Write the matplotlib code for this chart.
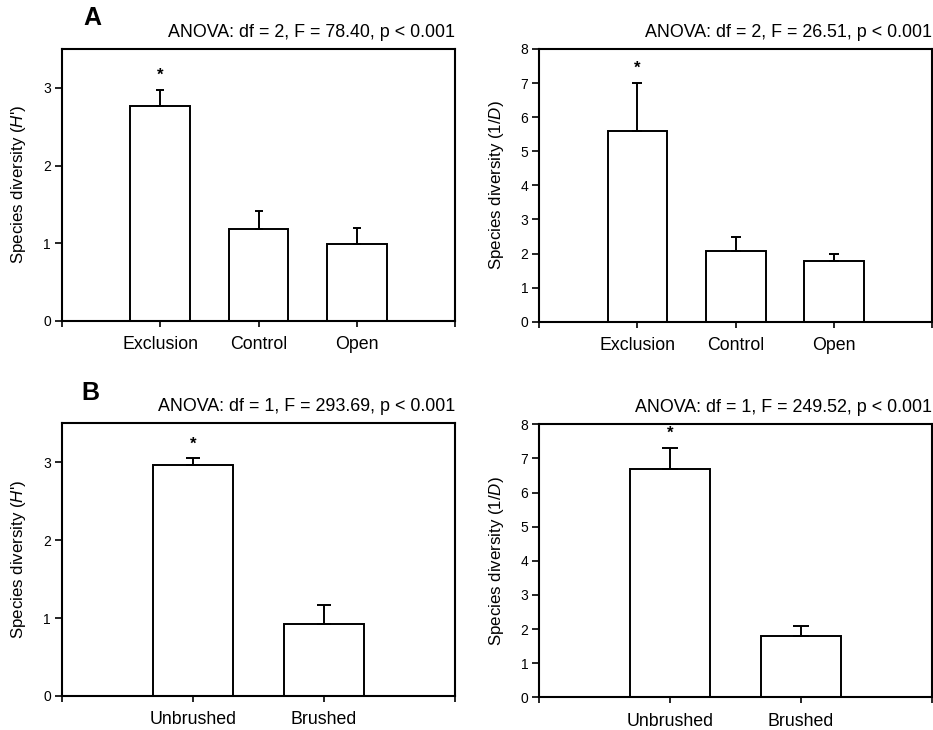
import matplotlib
matplotlib.use("Agg")
import matplotlib.pyplot as plt
import numpy as np

plt.rcParams['font.family'] = ['Liberation Sans', 'DejaVu Sans']
plt.rcParams['mathtext.fontset'] = 'custom'
plt.rcParams['mathtext.rm'] = 'Liberation Sans'
plt.rcParams['mathtext.it'] = 'Liberation Sans:italic'

# panel A: exclusion experiment
a_cats = ['Exclusion', 'Control', 'Open']
a_h = [2.77, 1.18, 0.99]
a_h_err = [0.20, 0.23, 0.21]
a_d = [5.60, 2.08, 1.78]
a_d_err = [1.40, 0.40, 0.21]
a_sig = ['*', '', '']

# panel B: brushing experiment
b_cats = ['Unbrushed', 'Brushed']
b_h = [2.96, 0.92]
b_h_err = [0.09, 0.25]
b_d = [6.70, 1.80]
b_d_err = [0.60, 0.30]
b_sig = ['*', '']

titles = ['ANOVA: df = 2, F = 78.40, p < 0.001',
          'ANOVA: df = 2, F = 26.51, p < 0.001',
          'ANOVA: df = 1, F = 293.69, p < 0.001',
          'ANOVA: df = 1, F = 249.52, p < 0.001']

lab_h = "Species diversity ($\\mathit{H}$')"
lab_d = "Species diversity (1/$\\mathit{D}$)"

fig = plt.figure(figsize=(9.33, 7.3), dpi=100)

rects = [[0.0665, 0.5603, 0.4212, 0.3726],
         [0.578, 0.5593, 0.4209, 0.3736],
         [0.0665, 0.0466, 0.4212, 0.3736],
         [0.578, 0.0448, 0.4209, 0.3740]]

panels = [(a_cats, a_h, a_h_err, a_sig, lab_h, 3.5, [0, 1, 2, 3], 3),
          (a_cats, a_d, a_d_err, a_sig, lab_d, 8, range(9), 3.5),
          (b_cats, b_h, b_h_err, b_sig, lab_h, 3.5, [0, 1, 2, 3], 5),
          (b_cats, b_d, b_d_err, b_sig, lab_d, 8, range(9), 6)]

for i, (cats, vals, errs, sig, ylab, ytop, yt, cap) in enumerate(panels):
    ax = fig.add_axes(rects[i])
    n = len(cats)
    x = np.arange(1, n + 1)
    ax.bar(x, vals, width=0.61, color='white', edgecolor='black',
           linewidth=1.4, zorder=2)
    ax.errorbar(x, vals, yerr=[np.zeros(n), errs], fmt='none',
                ecolor='black', elinewidth=1.4, capsize=cap, capthick=1.4,
                zorder=3)
    for xi, v, e, s in zip(x, vals, errs, sig):
        if s:
            ax.annotate(s, (xi, v + e), xytext=(0, 5), textcoords='offset points',
                        ha='center', va='bottom', fontsize=12, fontweight='bold')
    ax.set_xlim(0, n + 1)
    ax.set_ylim(0, ytop)
    ax.set_xticks(range(0, n + 2))
    ax.set_xticklabels([''] + cats + [''], fontsize=12.8)
    ax.set_yticks(list(yt))
    ax.tick_params(axis='y', labelsize=10, length=5, width=1.2, direction='out', pad=3)
    ax.tick_params(axis='x', length=4, width=1.2, direction='out', pad=7)
    for sp in ax.spines.values():
        sp.set_linewidth(1.5)
    ax.set_ylabel(ylab, fontsize=12.2)
    ax.yaxis.set_label_coords(-0.086, 0.5)
    ax.set_title(titles[i], loc='right', fontsize=12.9, pad=8.5)

fig.text(0.089, 0.975, 'A', fontsize=18, fontweight='bold', va='center')
fig.text(0.087, 0.462, 'B', fontsize=18, fontweight='bold', va='center')

fig.savefig('out.png', dpi=100)
